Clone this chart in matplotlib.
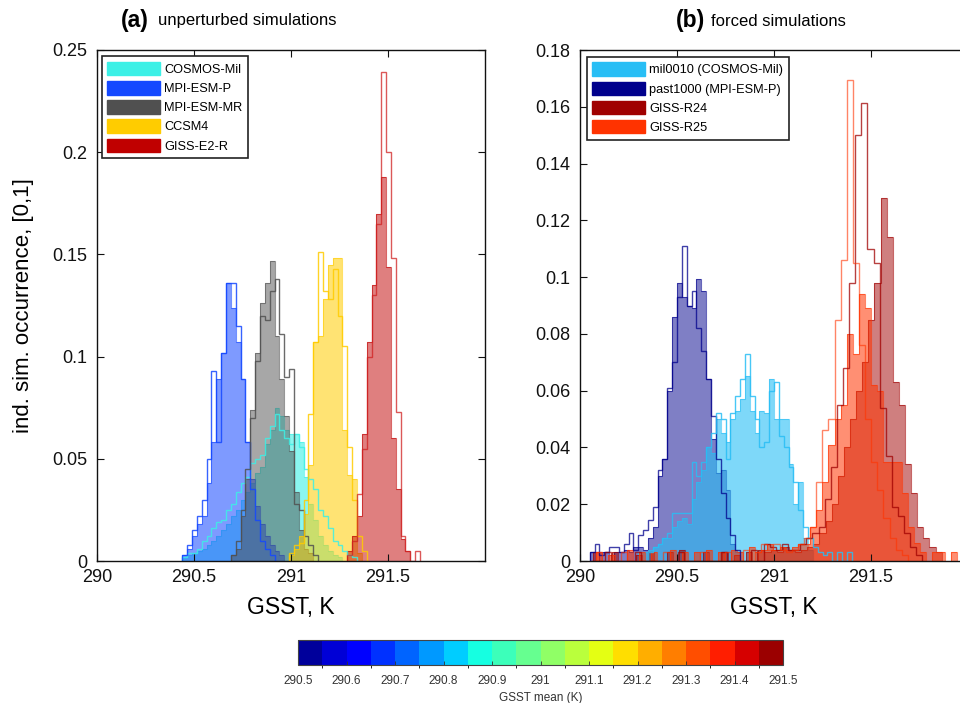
import numpy as np
import matplotlib
matplotlib.use("Agg")
import matplotlib.pyplot as plt
from matplotlib.patches import Patch
from matplotlib.colors import ListedColormap, BoundaryNorm
from matplotlib.cm import ScalarMappable
from matplotlib.ticker import FuncFormatter

plt.rcParams['font.family'] = ['Liberation Sans', 'DejaVu Sans']

# ---------------- data ----------------
# (a) unperturbed simulations, bin width 0.025 K
BIN_A = 0.025
cosmos_start = 290.44
cosmos_fill = [0.002, 0.003, 0.004, 0.005, 0.006, 0.008, 0.010, 0.012, 0.015, 0.018,
               0.022, 0.025, 0.030, 0.034, 0.038, 0.043, 0.046, 0.057, 0.064, 0.075,
               0.071, 0.064, 0.062, 0.062, 0.058, 0.041, 0.028, 0.020, 0.012, 0.008,
               0.005, 0.003, 0.002]
cosmos_line = [0.002, 0.004, 0.004, 0.006, 0.010, 0.012, 0.016, 0.019, 0.020, 0.025,
               0.028, 0.034, 0.038, 0.041, 0.048, 0.050, 0.052, 0.060, 0.066, 0.072,
               0.064, 0.060, 0.057, 0.062, 0.056, 0.045, 0.040, 0.035, 0.025, 0.022,
               0.016, 0.010, 0.008, 0.005, 0.003, 0.002]

mpip_start = 290.44
mpip_fill = [0.003, 0.006, 0.012, 0.018, 0.022, 0.038, 0.058, 0.089, 0.102, 0.136,
             0.124, 0.107, 0.089, 0.058, 0.040, 0.027, 0.018, 0.012, 0.008, 0.005, 0.003]
mpip_line = [0.003, 0.008, 0.015, 0.022, 0.030, 0.050, 0.093, 0.058, 0.102, 0.136,
             0.136, 0.115, 0.089, 0.058, 0.035, 0.020, 0.010, 0.006, 0.003]

mpimr_start = 290.69
mpimr_fill = [0.003, 0.006, 0.022, 0.040, 0.074, 0.102, 0.126, 0.136, 0.147, 0.110,
              0.089, 0.071, 0.054, 0.034, 0.015, 0.006, 0.004]
mpimr_line = [0.003, 0.010, 0.025, 0.045, 0.070, 0.098, 0.120, 0.118, 0.132, 0.138,
              0.111, 0.090, 0.094, 0.028, 0.025, 0.012, 0.008, 0.003]

ccsm4_start = 290.99
ccsm4_fill = [0.003, 0.006, 0.012, 0.023, 0.047, 0.107, 0.110, 0.128, 0.145, 0.148,
              0.148, 0.064, 0.042, 0.040, 0.004]
ccsm4_line = [0.004, 0.008, 0.009, 0.030, 0.072, 0.107, 0.151, 0.132, 0.128, 0.143,
              0.120, 0.105, 0.056, 0.030, 0.012, 0.005]

giss_start = 291.29
giss_fill = [0.005, 0.012, 0.022, 0.062, 0.107, 0.135, 0.170, 0.188, 0.144, 0.060,
             0.035, 0.011, 0.005]
giss_line = [0.003, 0.010, 0.033, 0.055, 0.100, 0.130, 0.165, 0.239, 0.200, 0.148,
             0.073, 0.012, 0.005, 0.000, 0.005]

# (b) forced simulations
BIN_B = 0.025
past1000_start = 290.05
past1000_fill = [0.003, 0.000, 0.003, 0.003, 0.000, 0.003, 0.003, 0.004, 0.003, 0.005,
                 0.005, 0.004, 0.008, 0.012, 0.030, 0.036, 0.060, 0.086, 0.098, 0.093,
                 0.090, 0.089, 0.0995, 0.095, 0.064, 0.043, 0.031, 0.032, 0.025, 0.006,
                 0.003]
past1000_line = [0.003, 0.006, 0.002, 0.003, 0.005, 0.005, 0.003, 0.006, 0.010, 0.004,
                 0.009, 0.011, 0.0145, 0.019, 0.032, 0.036, 0.061, 0.070, 0.093, 0.111,
                 0.090, 0.095, 0.082, 0.074, 0.064, 0.051, 0.036, 0.024, 0.015, 0.009,
                 0.004]

mil_fill_start = 290.30
mil0010_fill = [0.003, 0.003, 0.004, 0.005, 0.006, 0.008, 0.008, 0.012, 0.014, 0.015,
                0.013, 0.022, 0.028, 0.032, 0.040, 0.038, 0.050, 0.045, 0.042, 0.050,
                0.053, 0.057, 0.065, 0.053, 0.045, 0.053, 0.052, 0.064, 0.050, 0.050,
                0.050, 0.034, 0.020, 0.028, 0.008, 0.004]
mil_line_start = 290.35
mil0010_line = [0.003, 0.005, 0.006, 0.008, 0.010, 0.017, 0.017, 0.017, 0.017, 0.035,
                0.030, 0.035, 0.040, 0.045, 0.052, 0.050, 0.036, 0.052, 0.058, 0.064,
                0.073, 0.058, 0.050, 0.040, 0.042, 0.060, 0.063, 0.044, 0.040, 0.033,
                0.028, 0.018, 0.012, 0.008, 0.005, 0.003, 0.002, 0.003, 0.000, 0.003,
                0.000, 0.003]

BIN_R = 0.0315
r25_start = 290.052
r25_fill = [0, 0.003, 0, 0.002, 0, 0, 0.004, 0, 0.003, 0,
            0.003, 0, 0, 0.004, 0, 0.003, 0, 0.003, 0, 0.004,
            0, 0.003, 0, 0.004, 0.003, 0, 0.005, 0.003, 0.004, 0.006,
            0.004, 0.005, 0.004, 0.005, 0.006, 0.006, 0.012, 0.018, 0.028, 0.041,
            0.050, 0.055, 0.080, 0.073, 0.094, 0.089, 0.062, 0.060, 0.035, 0.035,
            0.035, 0.024, 0.012, 0.0065, 0.003, 0, 0.003, 0.003, 0, 0.003]
r25_line = [0, 0.003, 0, 0, 0, 0.003, 0, 0, 0, 0,
            0, 0, 0.003, 0, 0, 0, 0, 0, 0.003, 0,
            0, 0, 0.003, 0, 0, 0.004, 0, 0.003, 0.006, 0.004,
            0.006, 0.004, 0.003, 0.004, 0.006, 0.008, 0.012, 0.028, 0.046, 0.050,
            0.085, 0.106, 0.1695, 0.105, 0.076, 0.050, 0.035, 0.025, 0.015, 0.008,
            0.004, 0.002]

r24_line_start = 290.064
r24_line = [0, 0, 0.003, 0, 0, 0, 0, 0.003, 0, 0,
            0, 0, 0, 0, 0.003, 0, 0, 0, 0, 0,
            0, 0.003, 0, 0, 0, 0, 0.004, 0, 0.006, 0.005,
            0.004, 0.006, 0.004, 0.004, 0.006, 0.008, 0.010, 0.012, 0.022, 0.033,
            0.055, 0.068, 0.098, 0.150, 0.1615, 0.110, 0.105, 0.054, 0.037, 0.019,
            0.016, 0.010, 0.005, 0.002]
r24_fill_start = 290.069
r24_fill = [0.003, 0, 0, 0.003, 0, 0, 0, 0.002, 0, 0.003,
            0, 0, 0.003, 0, 0.004, 0, 0, 0, 0.003, 0,
            0, 0.003, 0, 0.002, 0, 0.003, 0, 0.004, 0.003, 0.004,
            0.003, 0.005, 0.004, 0.003, 0.004, 0.005,
            0.006, 0.010, 0.014, 0.020, 0.030, 0.040, 0.050, 0.060, 0.070, 0.085,
            0.098, 0.128, 0.114, 0.063, 0.055, 0.034, 0.024, 0.012, 0.008, 0.005, 0.003]

# colours
C_COSMOS = '#3CF0E6'
C_MPIP = '#1448FF'
C_MPIMR = '#505050'
C_CCSM4 = '#FFCC00'
C_GISS = '#C00000'
C_MIL = '#28BEF5'
C_PAST = '#00008C'
C_R24 = '#A00000'
C_R25 = '#FF3300'

labels_a = ['COSMOS-Mil', 'MPI-ESM-P', 'MPI-ESM-MR', 'CCSM4', 'GISS-E2-R']
colors_a = [C_COSMOS, C_MPIP, C_MPIMR, C_CCSM4, C_GISS]
labels_b = ['mil0010 (COSMOS-Mil)', 'past1000 (MPI-ESM-P)', 'GISS-R24', 'GISS-R25']
colors_b = [C_MIL, C_PAST, C_R24, C_R25]

cbar_ticks = [290.5, 290.6, 290.7, 290.8, 290.9, 291.0, 291.1, 291.2, 291.3, 291.4, 291.5]


def edges_for(start, width, heights):
    return start + width * np.arange(len(heights) + 1)


def filled(ax, start, width, heights, color, alpha=0.55):
    e = edges_for(start, width, heights)
    ax.stairs(heights, e, fill=True, color=color, alpha=alpha, linewidth=0)
    ax.stairs(heights, e, color=color, alpha=0.6, linewidth=0.8)


def outline(ax, start, width, heights, color, alpha=0.85):
    e = edges_for(start, width, heights)
    ax.stairs(heights, e, color=color, alpha=alpha, linewidth=1.0)


W, H = 960, 703
fig = plt.figure(figsize=(W / 100, H / 100), dpi=100)
axa = fig.add_axes([97 / W, 1 - 561 / H, 388 / W, 511 / H])
axb = fig.add_axes([580 / W, 1 - 561 / H, 388 / W, 511 / H])

# panel (a)
filled(axa, cosmos_start, BIN_A, cosmos_fill, C_COSMOS, 0.6)
filled(axa, mpip_start, BIN_A, mpip_fill, C_MPIP, 0.55)
filled(axa, mpimr_start, BIN_A, mpimr_fill, C_MPIMR, 0.5)
filled(axa, ccsm4_start, BIN_A, ccsm4_fill, C_CCSM4, 0.55)
filled(axa, giss_start, BIN_A, giss_fill, C_GISS, 0.5)
outline(axa, cosmos_start, BIN_A, cosmos_line, C_COSMOS)
outline(axa, mpip_start, BIN_A, mpip_line, C_MPIP)
outline(axa, mpimr_start, BIN_A, mpimr_line, C_MPIMR)
outline(axa, ccsm4_start, BIN_A, ccsm4_line, C_CCSM4)
outline(axa, giss_start, BIN_A, giss_line, '#D02020', 0.75)

# panel (b)
filled(axb, past1000_start, BIN_B, past1000_fill, C_PAST, 0.5)
filled(axb, mil_fill_start, BIN_B, mil0010_fill, C_MIL, 0.6)
filled(axb, r24_fill_start, BIN_R, r24_fill, C_R24, 0.5)
filled(axb, r25_start, BIN_R, r25_fill, C_R25, 0.55)
outline(axb, past1000_start, BIN_B, past1000_line, C_PAST, 0.75)
outline(axb, mil_line_start, BIN_B, mil0010_line, C_MIL)
outline(axb, r24_line_start, BIN_R, r24_line, C_R24, 0.75)
outline(axb, r25_start, BIN_R, r25_line, C_R25, 0.6)

fmt = FuncFormatter(lambda v, p: '%g' % round(v, 4))
for ax, ymax, ystep in ((axa, 0.25, 0.05), (axb, 0.18, 0.02)):
    ax.set_xlim(290, 292)
    ax.set_ylim(0, ymax)
    ax.set_xticks([290, 290.5, 291, 291.5])
    ax.set_yticks(np.round(np.arange(0, ymax + 1e-9, ystep), 3))
    ax.xaxis.set_major_formatter(fmt)
    ax.yaxis.set_major_formatter(fmt)
    ax.tick_params(direction='in', top=True, right=True, length=5, width=0.8,
                   labelsize=13, pad=6, colors='#111111')
    ax.tick_params(axis='y', pad=7)
    for s in ax.spines.values():
        s.set_linewidth(1.0)
        s.set_color('#111111')
    ax.set_xlabel('GSST, K', fontsize=16.5)
    ax.xaxis.set_label_coords(0.5, -35 / 511)

axa.set_ylabel('ind. sim. occurrence, [0,1]', fontsize=16)
axa.yaxis.set_label_coords(-63 / 388, 0.5)

leg_kw = dict(loc='upper left', borderaxespad=0, fontsize=9.2, handlelength=4.1,
              handleheight=1.25, handletextpad=0.35, labelspacing=0.4, borderpad=0.45,
              fancybox=False, framealpha=1, edgecolor='#222222')
la = axa.legend([Patch(facecolor=c, edgecolor=c) for c in colors_a], labels_a,
                bbox_to_anchor=(0.012, 0.988), **leg_kw)
la.get_frame().set_linewidth(1.2)
lb = axb.legend([Patch(facecolor=c, edgecolor=c) for c in colors_b], labels_b,
                bbox_to_anchor=(0.017, 0.987), **leg_kw)
lb.get_frame().set_linewidth(1.2)

# panel titles
ty = 1 - 21 / H
fig.text(121 / W, ty, '(a)', fontsize=16.5, fontweight='bold', va='center', ha='left')
fig.text(158 / W, ty, 'unperturbed simulations', fontsize=12, va='center', ha='left')
fig.text(676 / W, ty, '(b)', fontsize=16.5, fontweight='bold', va='center', ha='left')
fig.text(711 / W, ty, 'forced simulations', fontsize=12, va='center', ha='left')

# colour bar of GSST mean
jet = plt.get_cmap('jet')
cmap = ListedColormap(jet((np.arange(20) + 0.5) / 20))
bounds = np.linspace(290.5, 291.5, 21)
norm = BoundaryNorm(bounds, cmap.N)
cax = fig.add_axes([298 / W, 1 - 665 / H, 485 / W, 25 / H])
cb = fig.colorbar(ScalarMappable(norm=norm, cmap=cmap), cax=cax,
                  orientation='horizontal', ticks=cbar_ticks)
cb.ax.xaxis.set_major_formatter(fmt)
cb.ax.tick_params(labelsize=8.5, length=3, width=0.6, direction='in', pad=7,
                  colors='#333333')
cb.outline.set_linewidth(0.8)
cb.outline.set_edgecolor('#444444')
cb.set_label('GSST mean (K)', fontsize=8.5, labelpad=4, color='#333333')

fig.savefig('out.png', dpi=100)
